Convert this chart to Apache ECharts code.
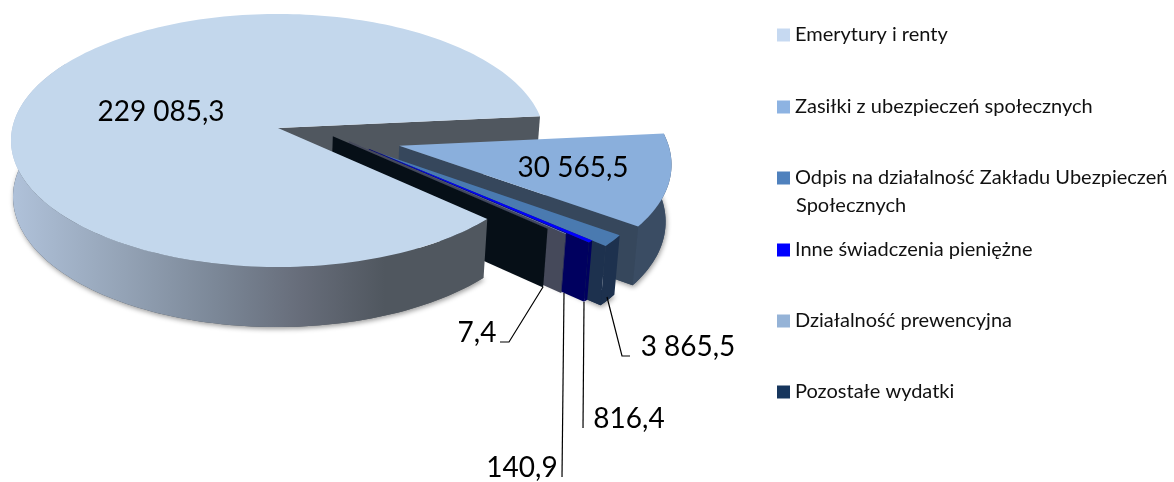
<!DOCTYPE html>
<html><head><meta charset="utf-8">
<style>html,body{margin:0;padding:0;background:#fff}#c{width:1174px;height:482px}</style>
<script src="https://cdn.jsdelivr.net/npm/echarts@6/dist/echarts.min.js"></script>
</head><body><div id="c"></div>
<script>
// ---- data ----
const categories = ['Emerytury i renty','Zasiłki z ubezpieczeń społecznych','Odpis na działalność Zakładu Ubezpieczeń Społecznych','Inne świadczenia pieniężne','Działalność prewencyjna','Pozostałe wydatki'];
const values = [229085.3, 30565.5, 3865.5, 816.4, 140.9, 7.4];
// ---- style ----
const legendColors = ['#C6D9F1','#8DB3E2','#4F81BD','#0000FF','#95B3D7','#17365D'];
const topColors    = ['#C3D7EC','#8AAFDC','#4A7AB0','#0000FF','#8FA6C4','#15294A'];
const wallColors   = ['#50575F','#36475C','#1D314E','#00005F','#45495A','#060F17'];
const sideColors   = ['#50575F','#3A4C63','#1D314E','#00005F','#45495A','#060F17'];
const explodeVec   = [[0,0],[0.45,-0.14],[0.378,-0.2],[0.336,-0.163],[0.264,-0.102],[0.205,-0.066]];
const paintOrder   = [60,10,20,30,40,50];
const legendCenters = [35,107,178,250,321,392];
const FONT = 'Lato';
const LABEL_SIZE = 28, LEGEND_SIZE = 20;
const firstAngle = 132.7, cx = 278, cy = 128, R = 265.7, S = 125.3, k = 0.0988;
const depth = 56, Rb = R*0.988, cxb = 276.8, Sb = 128.9;

const total = values.reduce((a,b)=>a+b,0);
const starts = []; let acc = firstAngle;
values.forEach(v=>{starts.push(acc); acc += v/total*360;});
function dir(aDeg){const a=aDeg*Math.PI/180;return [Math.sin(a),Math.cos(a)];}
function ptTop(u,v){const w=1+k*v;return [cx+R*u/w,cy-S*v/w];}
function ptBot(u,v){const w=1+k*v;return [cxb+Rb*u/w,cy+depth-Sb*v/w];}
function fmt(v){const p=v.toFixed(1).split('.');return p[0].replace(/\B(?=(\d{3})+$)/g,' ')+','+p[1];}
function arc(a0,a1,e,fn){const n=Math.max(2,Math.ceil(Math.abs(a1-a0)/1.5));const out=[];
  for(let i=0;i<=n;i++){const d=dir(a0+(a1-a0)*i/n);out.push(fn(d[0]+e[0],d[1]+e[1]));}return out;}
const mainGrad = {type:'linear',x:11,y:0,x2:385,y2:0,global:true,colorStops:[
  {offset:0,color:'#B0C2DA'},{offset:0.3,color:'#94A3B6'},{offset:0.55,color:'#7B8797'},{offset:0.78,color:'#666C79'},{offset:1,color:'#50575F'}]};
const shadow = {shadowBlur:5,shadowOffsetX:1,shadowOffsetY:2,shadowColor:'rgba(0,0,0,0.4)'};

function renderSlice(i){return function(params,api){
  const val = api.value(0);
  const a0 = starts[i], a1 = a0 + val/total*360, e = explodeVec[i], z = paintOrder[i];
  const kids = [];
  const d = dir(a1);
  const sa = a0, sb = Math.min(a1, i===0?a0+170:a1);
  if(i<3){ // floor of the slice casts the soft shadow
    const floor=[ptBot(e[0],e[1])].concat(arc(sa,sb,e,ptBot));
    kids.push({type:'polygon',z2:z-1,shape:{points:floor},style:Object.assign({fill:sideColors[i]},shadow)});
  }
  const rim = arc(sa,sb,e,ptTop).concat(arc(sb,sa,e,ptBot));
  kids.push({type:'polygon',z2:z,shape:{points:rim},style:{fill:i===0?mainGrad:sideColors[i]}});
  const wall = [ptTop(e[0],e[1]),ptTop(d[0]+e[0],d[1]+e[1]),ptBot(d[0]+e[0],d[1]+e[1]),ptBot(e[0],e[1])];
  kids.push({type:'polygon',z2:i===0?1:z+1,shape:{points:wall},style:{fill:wallColors[i]}});
  const face = [ptTop(e[0],e[1])].concat(arc(a0,a1,e,ptTop));
  kids.push({type:'polygon',z2:z+2,shape:{points:face},style:{fill:topColors[i]}});
  return {type:'group',children:kids};
};}

const insideLabels = [[161,112],[573,168]];
const outsideLabels = {5:{text:[477,333],line:[[543,287],[509,342],[500,342]]},
  4:{text:[522,468],line:[[564,293],[562,477]]},
  3:{text:[629,419],line:[[584,302],[583,428]]},
  2:{text:[688,347],line:[[607,297],[622,356],[630,356]]}};
function renderLabels(params,api){
  const kids=[];
  const add=(t,p)=>kids.push({type:'text',z2:100,style:{text:t,x:p[0],y:p[1],fill:'#000',fontFamily:FONT,fontSize:LABEL_SIZE,textAlign:'center',textVerticalAlign:'middle'}});
  add(fmt(values[0]),insideLabels[0]); add(fmt(values[1]),insideLabels[1]);
  Object.keys(outsideLabels).forEach(i=>{const o=outsideLabels[i];
    add(fmt(values[i]),o.text);
    kids.push({type:'polyline',z2:99,shape:{points:o.line},style:{stroke:'#000',lineWidth:1.2,fill:'none'}});
  });
  return {type:'group',children:kids};
}

const series = categories.map((name,i)=>({
  type:'custom',name,coordinateSystem:'none',data:[values[i]],silent:true,
  itemStyle:{color:legendColors[i]},renderItem:renderSlice(i),animation:false
}));
series.push({type:'custom',name:'etykiety',coordinateSystem:'none',data:[0],silent:true,renderItem:renderLabels,animation:false});

const legends = categories.map((name,i)=>({
  show:true,data:[name],left:777,top:legendCenters[i]-10,padding:0,orient:'vertical',
  itemWidth:13,itemHeight:13,selectedMode:false,icon:'rect',
  formatter:n=>n.replace(' Społecznych',''),
  textStyle:{fontFamily:FONT,fontSize:LEGEND_SIZE,color:'#111',lineHeight:20}
}));

const chart = echarts.init(document.getElementById('c'),null,{renderer:'canvas'});
chart.setOption({
  backgroundColor:'#fff',animation:false,legend:legends,series,
  graphic:[{type:'text',left:796,top:196,silent:true,style:{text:'Społecznych',fontFamily:FONT,fontSize:LEGEND_SIZE,fill:'#111'}}]
});
</script></body></html>
